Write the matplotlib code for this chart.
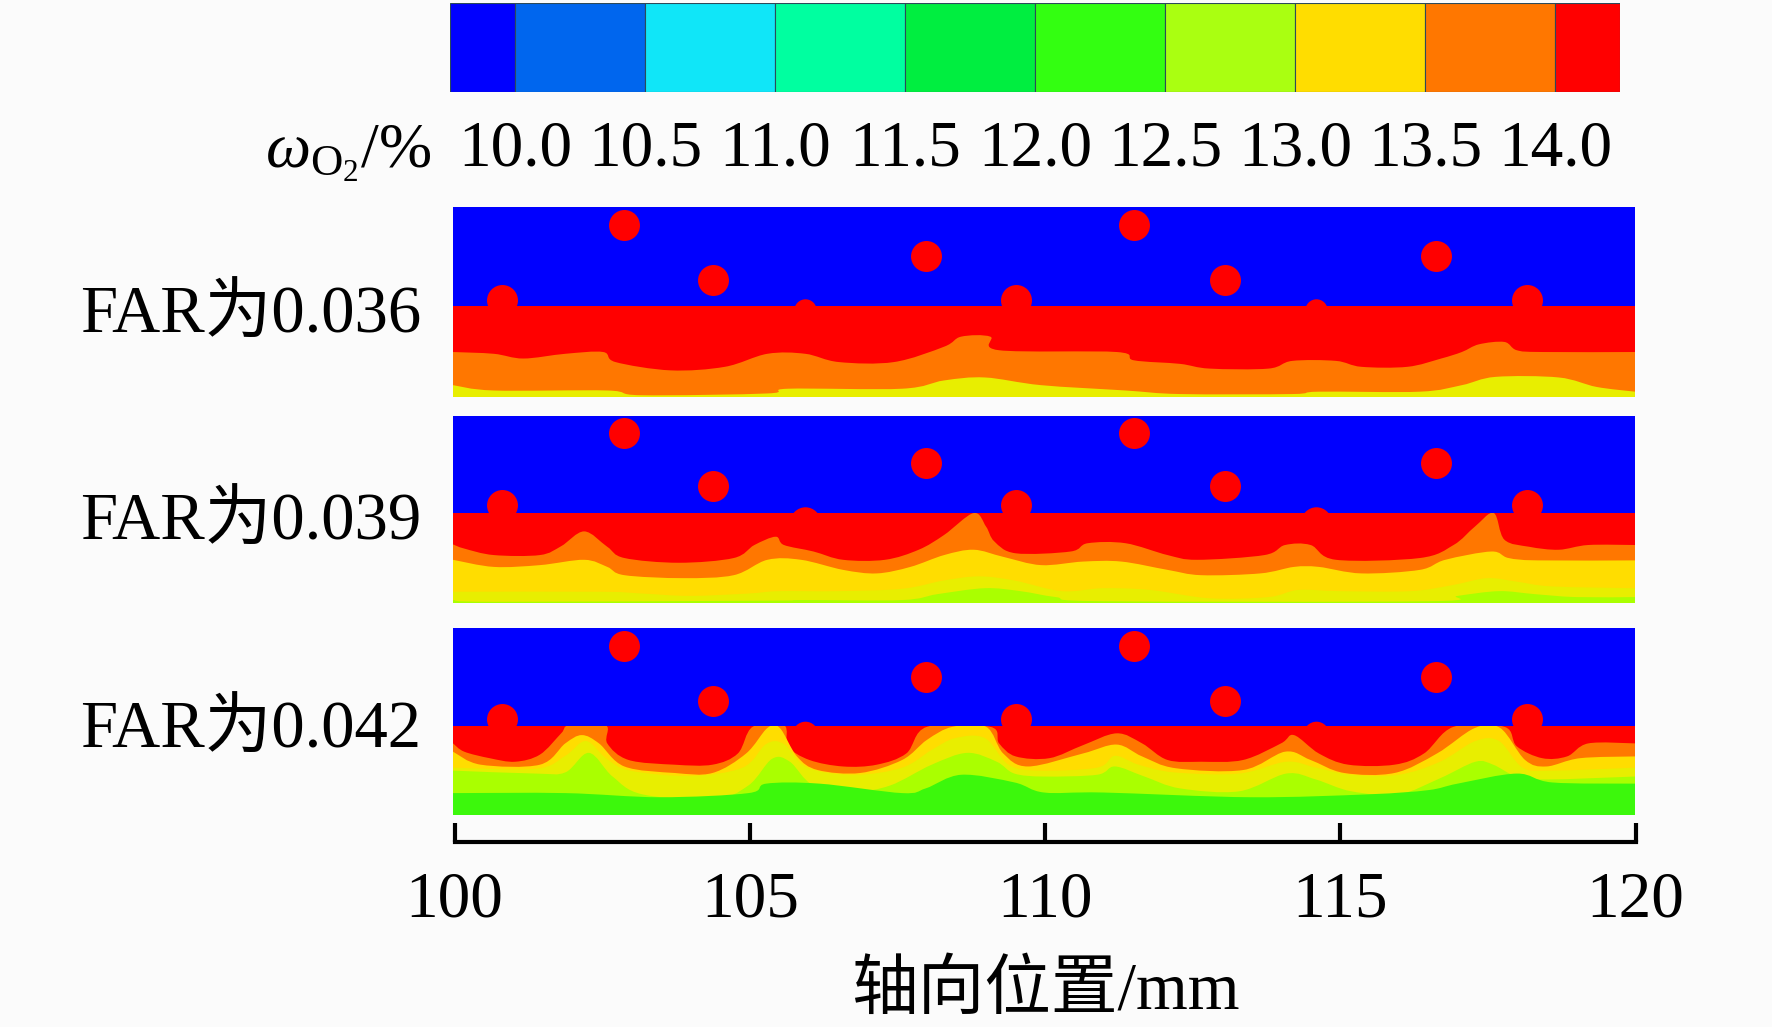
import matplotlib
matplotlib.use("Agg")
import matplotlib.pyplot as plt
from matplotlib.path import Path
from matplotlib.patches import PathPatch, Rectangle

plt.rcParams['font.family'] = ['Liberation Serif', 'Noto Sans CJK SC']
plt.rcParams['mathtext.fontset'] = 'custom'
plt.rcParams['mathtext.rm'] = 'Liberation Serif'
plt.rcParams['mathtext.it'] = 'Liberation Serif:italic'

# ---- colour bar ----
level_labels = ['10.0', '10.5', '11.0', '11.5', '12.0', '12.5', '13.0', '13.5', '14.0']
level_values = [10.0, 10.5, 11.0, 11.5, 12.0, 12.5, 13.0, 13.5, 14.0]
segment_edges = [9.75, 10.0, 10.5, 11.0, 11.5, 12.0, 12.5, 13.0, 13.5, 14.0, 14.25]
segment_colors = ['#0000ff', '#0066ee', '#10e6f8', '#00ffa0', '#00ee40',
                  '#33ff11', '#aaff11', '#ffdd00', '#ff7700', '#ff0000']

# ---- shared colours of the contour bands ----
BLUE, RED, ORANGE, YEL, YEL2, LIME, GREEN = ('#0000ff', '#ff0000', '#ff7700', '#ffdd00',
                                             '#e8ee00', '#aaff00', '#3cf80c')

# ---- jet holes ----
hole_x = [102.9, 104.4, 108.0, 111.53, 113.07, 116.63, 100.83, 109.52, 118.18]
p1_hole_y = [2.90, 1.97, 2.39, 2.90, 1.97, 2.39, 1.64, 1.64, 1.64]
p2_hole_y = [2.87, 1.97, 2.36, 2.87, 1.97, 2.36, 1.65, 1.65, 1.65]
p3_hole_y = [2.85, 1.92, 2.34, 2.85, 1.92, 2.34, 1.62, 1.62, 1.62]
bump_x = [105.95, 114.6]
p1_bump_y = [1.47, 1.47]
p2_bump_y = [1.37, 1.37]
p3_bump_y = [1.37, 1.37]

# ---- panel 1, FAR 0.036 ----
p1_red_top_x = [100, 120]
p1_red_top_y = [1.53, 1.53]
p1_red_x = [100, 100.69, 101.19, 101.9, 102.54, 102.75, 103.68, 104.6, 105.32, 105.96, 106.53, 107.46,
            108.31, 108.6, 109.09, 109.24, 111.23, 111.52, 112.3, 112.8, 113.8, 114.2, 114.94, 115.37,
            116.15, 116.72, 117.07, 117.36, 117.79, 118.0, 118.43, 120]
p1_red_y = [0.76, 0.73, 0.65, 0.73, 0.76, 0.59, 0.45, 0.51, 0.73, 0.73, 0.59, 0.59,
            0.85, 1.02, 1.02, 0.79, 0.76, 0.62, 0.56, 0.48, 0.48, 0.61, 0.61, 0.51,
            0.51, 0.65, 0.76, 0.89, 0.93, 0.79, 0.76, 0.76]
p1_orange_x = [100, 100.69, 102.61, 103.18, 105.32, 105.67, 107.6, 108.31, 109.0, 109.95, 111.38, 112.3,
               114.2, 114.65, 116.36, 117.07, 117.64, 118.71, 119.35, 120]
p1_orange_y = [0.20, 0.11, 0.11, 0.03, 0.06, 0.14, 0.14, 0.28, 0.33, 0.20, 0.11, 0.05,
               0.05, 0.09, 0.09, 0.20, 0.34, 0.33, 0.17, 0.09]

# ---- panel 2, FAR 0.039 ----
p2_red_top_x = [100, 120]
p2_red_top_y = [1.52, 1.52]
p2_red_x = [100, 100.19, 100.69, 101.47, 101.83, 102.22, 102.61, 102.9, 103.82, 104.75, 105.1, 105.46,
            105.6, 106.1, 106.6, 107.31, 107.88, 108.31, 108.81, 109.02, 109.16, 109.52, 110.45, 110.74,
            111.38, 112.09, 112.59, 113.73, 114.08, 114.51, 114.94, 116.36, 116.93, 117.29, 117.61,
            117.79, 118.21, 118.71, 119.21, 120]
p2_red_y = [0.99, 0.92, 0.81, 0.81, 0.96, 1.21, 0.95, 0.76, 0.68, 0.76, 0.98, 1.12,
            0.98, 0.87, 0.73, 0.73, 0.90, 1.15, 1.52, 1.29, 1.04, 0.84, 0.87, 1.01,
            1.01, 0.81, 0.73, 0.81, 0.98, 0.98, 0.73, 0.76, 0.98, 1.29, 1.52,
            1.07, 0.95, 0.90, 0.98, 0.98]
p2_orange_x = [100, 100.69, 101.47, 102.22, 102.61, 102.9, 103.89, 104.75, 105.32, 105.89, 106.6, 107.17,
               107.74, 108.31, 108.81, 109.31, 109.95, 110.66, 111.31, 112.09, 112.66, 113.66, 114.23,
               114.65, 115.37, 116.36, 116.79, 117.57, 117.86, 118.36, 120]
p2_orange_y = [0.73, 0.61, 0.64, 0.73, 0.61, 0.47, 0.42, 0.47, 0.73, 0.73, 0.56, 0.50,
               0.61, 0.81, 0.90, 0.78, 0.64, 0.70, 0.70, 0.56, 0.47, 0.50, 0.61,
               0.61, 0.50, 0.56, 0.73, 0.87, 0.76, 0.72, 0.72]
p2_yellow_x = [100, 102.5, 103.2, 104, 105, 105.5, 106.5, 107.6, 108.3, 108.9, 109.5, 110.3, 111,
               111.8, 112.8, 113.8, 114.3, 115, 116.2, 116.9, 117.5, 118, 118.6, 120]
p2_yellow_y = [0.19, 0.19, 0.16, 0.12, 0.16, 0.20, 0.20, 0.24, 0.38, 0.45, 0.38, 0.20, 0.25,
               0.22, 0.08, 0.10, 0.22, 0.20, 0.20, 0.30, 0.42, 0.36, 0.28, 0.25]
p2_yel2_x = [100, 100.7, 105.3, 105.9, 107.6, 108.2, 109, 109.6, 110.2, 111, 116.5, 117, 117.7, 118.3, 119, 120]
p2_yel2_y = [0.05, 0.02, 0.04, 0.05, 0.05, 0.15, 0.25, 0.20, 0.10, 0.03, 0.03, 0.12, 0.20, 0.15, 0.10, 0.10]

# ---- panel 3, FAR 0.042 ----
p3_red_top_x = [100, 120]
p3_red_top_y = [1.50, 1.50]
p3_red_x = [100, 100.19, 100.62, 101.05, 101.47, 101.83, 101.97, 102.58, 102.61, 102.97, 103.75, 104.39,
            104.82, 105.07, 105.6, 105.67, 106.03, 106.6, 107.17, 107.67, 108.02, 109.09, 109.24, 109.52,
            110.09, 110.66, 111.23, 111.66, 112.09, 112.66, 113.37, 114.01, 114.23, 114.65, 115.15,
            115.93, 116.43, 116.93, 117.79, 118.0, 118.43, 118.85, 119.21, 120]
p3_red_y = [1.21, 1.07, 0.96, 0.90, 1.02, 1.38, 1.52, 1.52, 1.21, 0.93, 0.85, 0.85,
            1.04, 1.49, 1.52, 1.16, 0.93, 0.82, 0.85, 1.04, 1.49, 1.49, 1.21, 0.99,
            0.96, 1.18, 1.38, 1.21, 0.93, 0.90, 0.93, 1.21, 1.35, 1.04, 0.85,
            0.85, 1.04, 1.49, 1.49, 1.16, 0.96, 0.99, 1.21, 1.21]
p3_orange_x = [100, 100.47, 101.47, 101.9, 102.18, 102.47, 102.9, 103.75, 104.39, 104.96, 105.32, 105.53,
               105.82, 106.17, 106.89, 107.6, 108.02, 108.45, 109.02, 109.31, 109.73, 110.66, 111.23,
               111.66, 112.23, 113.37, 114.08, 114.51, 115.08, 115.93, 116.65, 117.29, 117.72, 118.14,
               118.5, 119.07, 120]
p3_orange_y = [1.07, 0.85, 0.85, 1.21, 1.35, 1.21, 0.82, 0.71, 0.71, 1.04, 1.47, 1.47,
               0.99, 0.76, 0.71, 0.93, 1.27, 1.49, 1.49, 1.04, 0.82, 1.04, 1.19,
               0.99, 0.79, 0.76, 1.07, 0.93, 0.71, 0.71, 1.04, 1.47, 1.47, 0.93,
               0.82, 0.96, 0.99]
p3_yellow_x = [100, 101.4, 101.9, 102.25, 102.6, 103, 104, 104.9, 105.3, 105.6, 106, 106.8, 107.6, 108.1,
               108.5, 109, 109.4, 109.9, 110.9, 111.2, 111.6, 112.2, 113.3, 114.1, 114.6, 115.2, 116,
               116.7, 117.3, 117.7, 118.1, 118.6, 120]
p3_yellow_y = [0.80, 0.78, 1.00, 1.25, 0.95, 0.75, 0.66, 0.80, 1.20, 1.20, 0.80, 0.68, 0.80, 1.10,
               1.30, 1.30, 0.85, 0.75, 0.80, 1.00, 0.85, 0.72, 0.70, 0.90, 0.80, 0.68, 0.68,
               0.90, 1.25, 1.25, 0.80, 0.75, 0.80]
p3_yel2_x = [100, 101.4, 101.9, 102.3, 102.7, 103.2, 104.4, 105, 105.4, 105.7, 106.1, 106.8, 107.4, 108.1,
             108.7, 109.2, 109.5, 110, 110.9, 111.2, 111.7, 112.3, 113.3, 114.1, 114.6, 115.2, 116,
             116.7, 117.3, 117.6, 118, 118.5, 120]
p3_yel2_y = [0.75, 0.70, 0.72, 1.05, 0.65, 0.35, 0.26, 0.50, 0.95, 0.90, 0.50, 0.40, 0.50, 0.85,
             1.05, 0.90, 0.70, 0.65, 0.68, 0.82, 0.65, 0.45, 0.40, 0.70, 0.60, 0.40, 0.35,
             0.62, 0.90, 0.85, 0.65, 0.60, 0.65]
p3_lime_x = [100, 101.9, 103.5, 105.0, 105.3, 106.2, 107.6, 108, 108.6, 109.5, 110, 111,
             113.5, 115.5, 116.5, 117, 118, 118.6, 120]
p3_lime_y = [0.37, 0.37, 0.30, 0.37, 0.53, 0.53, 0.37, 0.45, 0.68, 0.55, 0.38, 0.38,
             0.30, 0.35, 0.42, 0.53, 0.70, 0.55, 0.53]

x_ticks = [100, 105, 110, 115, 120]
x_title = '轴向位置/mm'
panel_names = ['FAR为0.036', 'FAR为0.039', 'FAR为0.042']

W, H = 1772, 1027
BG = '#fbfbfb'
fig = plt.figure(figsize=(W / 100, H / 100), dpi=100, facecolor=BG)


def px_axes(x0, y0, x1, y1):
    return fig.add_axes([x0 / W, 1 - y1 / H, (x1 - x0) / W, (y1 - y0) / H])


def fill_band(ax, xs, ys, color, ytop):
    """Fill from a smooth curve through the points down to y = 0."""
    verts = [(xs[0], 0.0), (xs[0], ys[0])]
    codes = [Path.MOVETO, Path.LINETO]
    n = len(xs)
    for i in range(n - 1):
        a = max(i - 1, 0)
        d = min(i + 2, n - 1)
        verts += [(xs[i] + (xs[i + 1] - xs[a]) / 6, ys[i] + (ys[i + 1] - ys[a]) / 6),
                  (xs[i + 1] - (xs[d] - xs[i]) / 6, ys[i + 1] - (ys[d] - ys[i]) / 6),
                  (xs[i + 1], ys[i + 1])]
        codes += [Path.CURVE4] * 3
    verts += [(xs[-1], 0.0), (xs[0], 0.0)]
    codes += [Path.LINETO, Path.CLOSEPOLY]
    patch = PathPatch(Path(verts, codes), facecolor=color, edgecolor='none', linewidth=0)
    ax.add_patch(patch)
    patch.set_clip_path(Rectangle((100, 0), 20, ytop, transform=ax.transData))


# colour bar
cax = px_axes(450, 3, 1620, 92)
cax.bar(segment_edges[:-1], [1] * len(segment_colors),
        width=[b - a for a, b in zip(segment_edges[:-1], segment_edges[1:])],
        align='edge', color=segment_colors, edgecolor='#2c4a5a', linewidth=0.8)
cax.set_xlim(9.75, 14.25)
cax.set_ylim(0, 1)
cax.set_yticks([])
cax.set_xticks(level_values, level_labels, fontsize=47)
cax.tick_params(axis='x', length=0, pad=20)
for s in cax.spines.values():
    s.set_visible(False)
fig.text(432 / W, 1 - 167 / H, r'$\omega_{\mathrm{O}_2}$/%', fontsize=46, ha='right', va='baseline')

panels = [
    dict(box=(453, 207, 1635, 397), ymax=3.21, hy=p1_hole_y, by=p1_bump_y, bs=260, top=(p1_red_top_x, p1_red_top_y),
         label_y=316, bands=[(p1_red_x, p1_red_y, ORANGE), (p1_orange_x, p1_orange_y, YEL2)]),
    dict(box=(453, 416, 1635, 603), ymax=3.16, hy=p2_hole_y, by=p2_bump_y, bs=480, top=(p2_red_top_x, p2_red_top_y),
         label_y=523.5, bands=[(p2_red_x, p2_red_y, ORANGE), (p2_orange_x, p2_orange_y, YEL),
                               (p2_yellow_x, p2_yellow_y, YEL2), (p2_yel2_x, p2_yel2_y, LIME)]),
    dict(box=(453, 628, 1635, 815), ymax=3.16, hy=p3_hole_y, by=p3_bump_y, bs=340, top=(p3_red_top_x, p3_red_top_y),
         label_y=731, bands=[(p3_red_x, p3_red_y, ORANGE), (p3_orange_x, p3_orange_y, YEL),
                             (p3_yellow_x, p3_yellow_y, YEL2), (p3_yel2_x, p3_yel2_y, LIME),
                             (p3_lime_x, p3_lime_y, GREEN)]),
]

for p, name in zip(panels, panel_names):
    ax = px_axes(*p['box'])
    ax.set_facecolor(BLUE)
    ytop = p['top'][1][0]
    ax.fill_between(p['top'][0], p['top'][1], 0, color=RED, linewidth=0)
    for bx, by, col in p['bands']:
        fill_band(ax, bx, by, col, ytop)
    ax.scatter(hole_x, p['hy'], s=497, color=RED, linewidths=0, zorder=5)
    ax.scatter(bump_x, p['by'], s=p['bs'], color=RED, linewidths=0, zorder=5)
    ax.set_xlim(100, 120)
    ax.set_ylim(0, p['ymax'])
    ax.set_xticks([])
    ax.set_yticks([])
    for s in ax.spines.values():
        s.set_visible(False)
    fig.text(421 / W, 1 - p['label_y'] / H, name, ha='right', va='center', fontsize=48)

# axial scale
sax = px_axes(454.5, 790, 1635.5, 842)
sax.patch.set_alpha(0)
sax.set_xlim(100, 120)
sax.set_yticks([])
for k in ['left', 'right', 'top']:
    sax.spines[k].set_visible(False)
sax.spines['bottom'].set_linewidth(3)
sax.spines['bottom'].set_capstyle('projecting')
sax.set_xticks(x_ticks, [str(t) for t in x_ticks], fontsize=47)
sax.tick_params(axis='x', direction='in', length=14, width=3, pad=21)
sax.set_xlabel(x_title, fontsize=48, labelpad=22)

fig.savefig('out.png', dpi=100, facecolor=BG)
